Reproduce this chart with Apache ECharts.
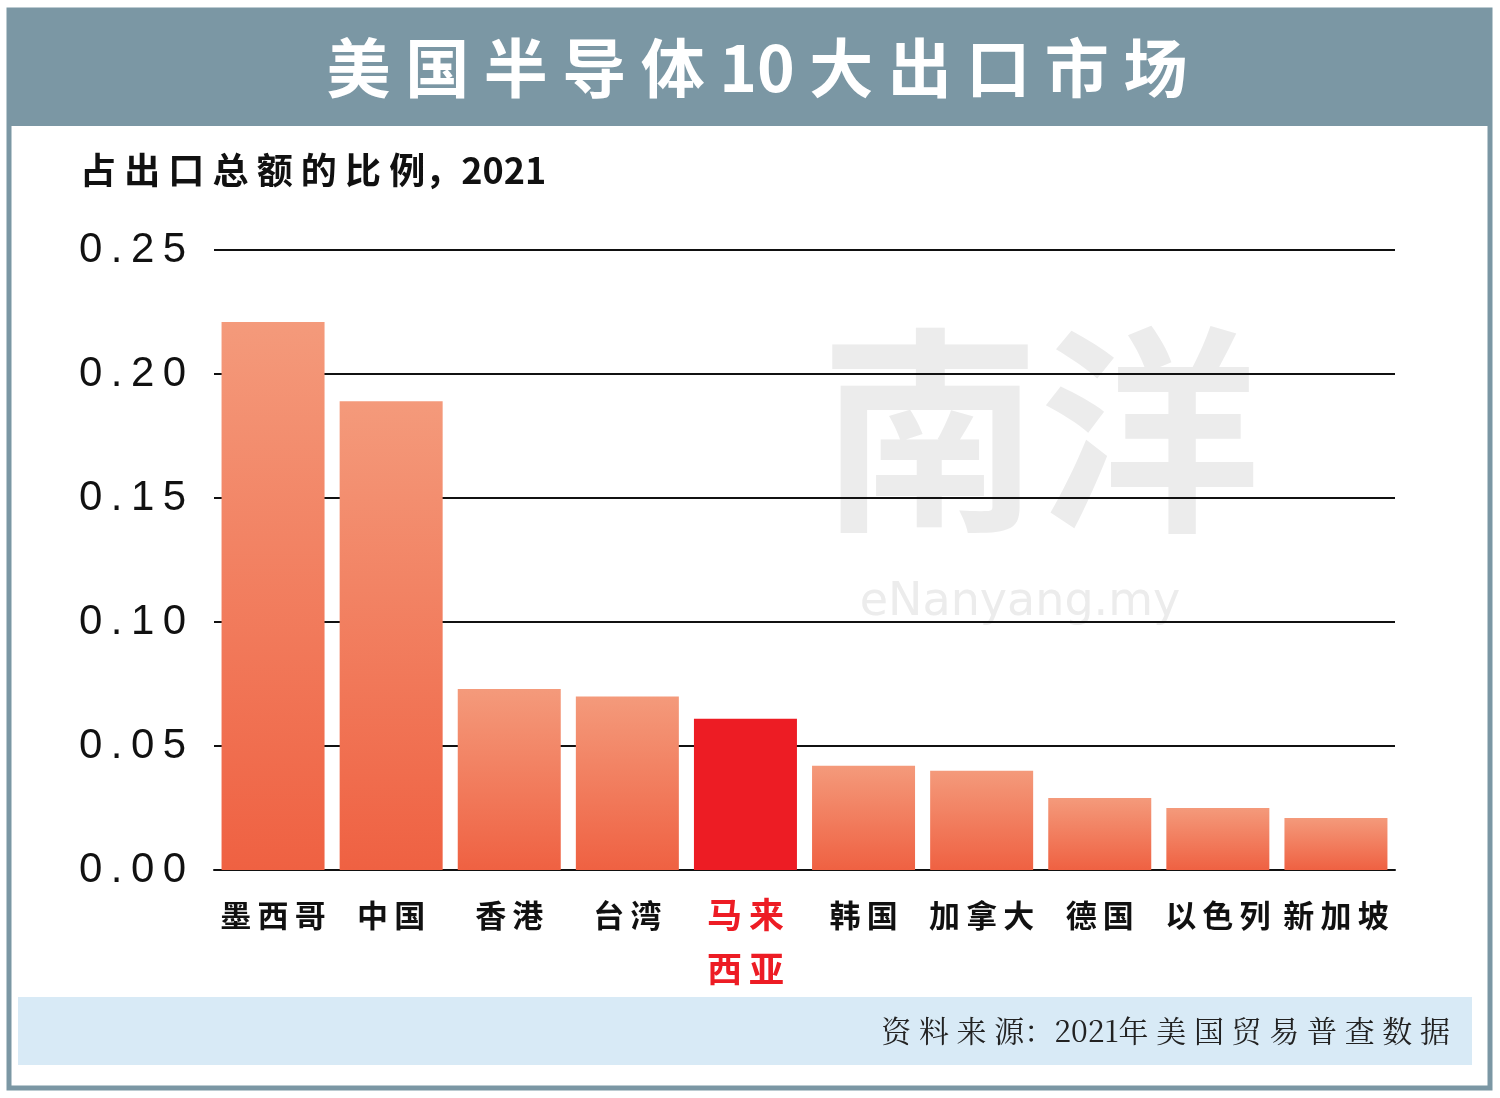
<!DOCTYPE html><html><head><meta charset="utf-8"><script src="https://cdn.jsdelivr.net/npm/echarts@6/dist/echarts.min.js"></script>
<style>body{margin:0}#c{width:1500px;height:1098px}</style></head><body><div id="c"></div><script>
const categories=['墨西哥','中国','香港','台湾','马来\n西亚','韩国','加拿大','德国','以色列','新加坡'];
const values=[0.221,0.189,0.073,0.070,0.061,0.042,0.040,0.029,0.025,0.021];
const yTicks=['0.00','0.05','0.10','0.15','0.20','0.25'];
const hi=4;
const sp=s=>s.split('\n').map(l=>l.split('').join('\u2009')).join('\n');
const grad={type:'linear',x:0,y:0,x2:0,y2:1,colorStops:[{offset:0,color:'#f49a7b'},{offset:1,color:'#ef6142'}]};
const ch=echarts.init(document.getElementById('c'));
ch.setOption({
 backgroundColor:'#fff',
 graphic:[
  {type:'rect',shape:{x:9,y:10,width:1481,height:1078},style:{fill:'none',stroke:'#7b97a4',lineWidth:5}},
  {type:'rect',shape:{x:9,y:10,width:1481,height:116},style:{fill:'#7b97a4'}},
  {type:'text',x:757,y:68,style:{text:'美 国 半 导 体 10 大 出 口 市 场',fill:'#fff',font:'bold 64px "Noto Sans CJK SC"',align:'center',verticalAlign:'middle'}},
  {type:'text',x:80,y:170,style:{text:'占 出 口 总 额 的 比 例，2021',fill:'#111',font:'bold 36px "Noto Sans CJK SC"',verticalAlign:'middle'}},
  {type:'rect',shape:{x:18,y:997,width:1454,height:68},style:{fill:'#d8eaf6'}},
  {type:'text',x:1450,y:1031,style:{text:'资 料 来 源：2021年 美 国 贸 易 普 查 数 据',fill:'#222',font:'30px "Noto Serif CJK SC", serif',align:'right',verticalAlign:'middle'}},
  {type:'text',x:1020,y:603,z:-1,style:{text:'eNanyang.my',fill:'#ececec',font:'46px "DejaVu Sans"',align:'center',verticalAlign:'middle'}},
  {type:'text',x:1040,y:430,z:-1,style:{text:'南洋',fill:'#ececec',font:'bold 220px "Noto Sans CJK SC"',align:'center',verticalAlign:'middle'}}
 ],
 grid:{left:214,right:105,top:250,bottom:228},
 xAxis:{type:'category',data:categories,axisTick:{show:false},axisLine:{lineStyle:{color:'#111',width:2}},
  axisLabel:{interval:0,margin:18,lineHeight:54,fontFamily:'Noto Sans CJK SC',fontWeight:'bold',fontSize:31,color:'#111',
   formatter:(v,i)=>i===hi?'{r|'+sp(v).replace('\n','}\n{r|')+'}':sp(v),rich:{r:{color:'#ed1c24',fontSize:35,fontWeight:'bold',fontFamily:'Noto Sans CJK SC',lineHeight:54}}}},
 yAxis:{type:'value',min:0,max:0.25,interval:0.05,axisLine:{show:false},axisTick:{show:false},
  splitLine:{lineStyle:{color:'#111',width:2}},
  axisLabel:{margin:28,fontSize:42,color:'#111',fontFamily:'Liberation Sans',formatter:(v)=>yTicks[Math.round(v/0.05)].split('').join('\u2009')}},
 series:[{type:'bar',barWidth:103,data:values.map((v,i)=>({value:v,itemStyle:{color:i===hi?'#ed1c24':grad}})),z:3}]
});
</script></body></html>
